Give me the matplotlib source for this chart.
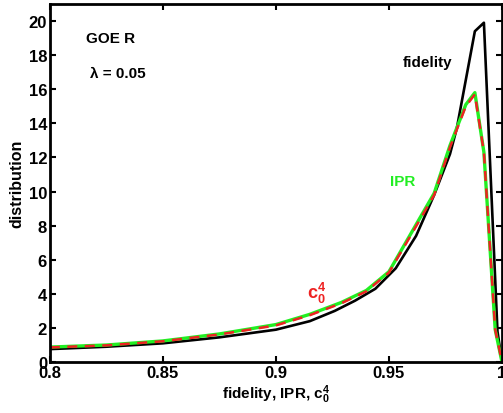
#!/usr/bin/env python3
"""
Distribution of fidelity, IPR and c0^4 for GOE R at lambda = 0.05
"""

import matplotlib
matplotlib.use('Agg')
import matplotlib.pyplot as plt

plt.rcParams['font.family'] = ['Liberation Sans', 'DejaVu Sans']
plt.rcParams['font.weight'] = 'bold'
plt.rcParams['mathtext.fontset'] = 'custom'
plt.rcParams['mathtext.rm'] = 'Liberation Sans:bold'
plt.rcParams['mathtext.it'] = 'Liberation Sans:bold'
plt.rcParams['mathtext.bf'] = 'Liberation Sans:bold'

# fidelity distribution (black)
fid_x = [0.80, 0.825, 0.85, 0.875, 0.90, 0.915, 0.926, 0.935, 0.944, 0.953,
         0.962, 0.970, 0.977, 0.980, 0.988, 0.992, 0.998, 1.0]
fid_y = [0.76, 0.9, 1.1, 1.45, 1.9, 2.4, 3.0, 3.6, 4.3, 5.5,
         7.4, 9.8, 12.2, 13.7, 19.4, 19.9, 1.8, 0.0]

# IPR distribution (green)
ipr_x = [0.80, 0.825, 0.85, 0.875, 0.90, 0.915, 0.929, 0.940, 0.950, 0.960,
         0.970, 0.977, 0.984, 0.988, 0.992, 0.997, 1.0]
ipr_y = [0.88, 1.0, 1.24, 1.65, 2.2, 2.8, 3.5, 4.2, 5.3, 7.6,
         9.9, 12.7, 15.1, 15.8, 12.3, 1.9, 0.0]

# c0^4 distribution (red dashed)
c04_x = [0.80, 0.825, 0.85, 0.875, 0.90, 0.915, 0.929, 0.940, 0.950, 0.960,
         0.970, 0.977, 0.984, 0.988, 0.992, 0.997, 1.0]
c04_y = [0.86, 0.98, 1.22, 1.62, 2.15, 2.75, 3.45, 4.15, 5.25, 7.5,
         9.8, 12.6, 15.0, 15.7, 12.3, 1.9, 0.0]

xticks = [0.8, 0.85, 0.9, 0.95, 1.0]
xticklabels = ['0.8', '0.85', '0.9', '0.95', '1']
yticks = list(range(0, 21, 2))

fig = plt.figure(figsize=(5.03, 4.14), dpi=100)
ax = fig.add_axes([0.099, 0.123, 0.899, 0.865])

ax.plot(fid_x, fid_y, color='black', lw=1.9)
ax.plot(ipr_x, ipr_y, color='#22ee22', lw=2.4)
ax.plot(c04_x, c04_y, color='#ee2222', lw=1.8, dashes=(4, 3))

ax.set_xlim(0.8, 1.0)
ax.set_ylim(0, 21)
ax.set_xticks(xticks)
ax.set_xticklabels(xticklabels)
ax.set_yticks(yticks)
ax.tick_params(direction='in', length=4, width=1.5, top=True, right=True,
               labelsize=12, pad=2)
for lbl in ax.get_xticklabels() + ax.get_yticklabels():
    lbl.set_fontweight('bold')
for sp in ax.spines.values():
    sp.set_linewidth(2)

ax.set_xlabel(r'fidelity, IPR, $\mathregular{c_0^4}$', fontsize=11,
              fontweight='bold', labelpad=2)
ax.set_ylabel('distribution', fontsize=11.5, fontweight='bold', labelpad=3)

ax.text(0.08, 0.905, 'GOE R', transform=ax.transAxes, fontsize=11,
        fontweight='bold', va='center')
ax.text(0.088, 0.806, r'λ = 0.05', transform=ax.transAxes, fontsize=11,
        fontweight='bold', va='center')
ax.text(0.78, 0.838, 'fidelity', transform=ax.transAxes, fontsize=11,
        fontweight='bold', va='center')
ax.text(0.752, 0.505, 'IPR', transform=ax.transAxes, fontsize=11,
        fontweight='bold', va='center', color='#22ee22')
ax.text(0.568, 0.195, r'$\mathregular{c_0^4}$', transform=ax.transAxes,
        fontsize=13, fontweight='bold', va='center', color='#ee2222')

fig.savefig('out.png', dpi=100)
